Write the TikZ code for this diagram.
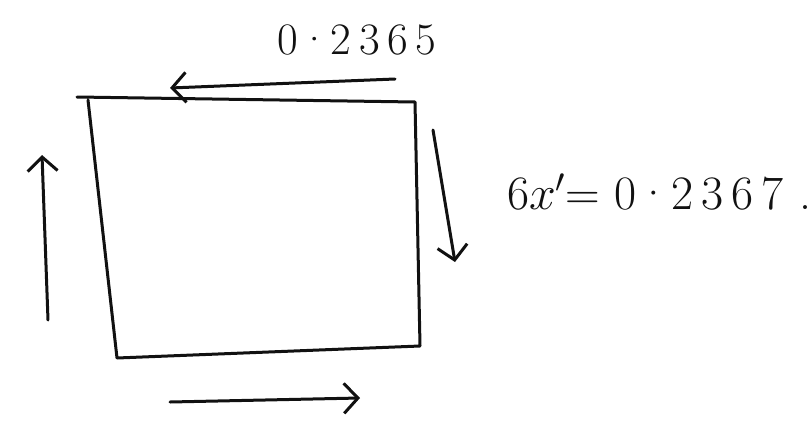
\RequirePackage{fix-cm}
\documentclass[tikz,border=0pt]{standalone}
\usetikzlibrary{arrows.meta}
\definecolor{Paper}{HTML}{FFFFFF}
\definecolor{Pen}{HTML}{111111}
\begin{document}
\begin{tikzpicture}[x=1pt,y=-1pt,every node/.style={text=Pen,inner sep=0pt}]
\useasboundingbox (0,0) rectangle (810,423);
\fill[Paper] (0,0) rectangle (810,423);
% sheet corners
\coordinate (tl) at (77,97);\coordinate (tr) at (415,102);
\coordinate (br) at (420,346);\coordinate (bl) at (117,358);\coordinate (lt) at (88,100);
\draw[Pen,line width=3pt,line join=round,line cap=round] (tl)--(tr)--(br)--(bl)--(lt);
% flow arrows
\coordinate (topS) at (395,79);\coordinate (topE) at (170,88);
\coordinate (rgtS) at (433,130);\coordinate (rgtE) at (455,262);
\coordinate (botS) at (170,402);\coordinate (botE) at (360,398);
\coordinate (lftS) at (48,320);\coordinate (lftE) at (42,155);
\tikzset{flow/.style={Pen,line width=3pt,line cap=round,-{Straight Barb[length=14pt,width=30pt,line width=3pt]}}}
\draw[flow] (topS)--(topE);\draw[flow] (rgtS)--(rgtE);
\draw[flow] (botS)--(botE);\draw[flow] (lftS)--(lftE);
\node[font=\fontsize{45}{45}\selectfont] (dxtop) at (357,40) {0·2\,3\,6\,5};
\node[font=\fontsize{48}{48}\selectfont,anchor=west] (dxside) at (507,192) {6$x'$= 0·2\,3\,6\,7\hspace{16pt}.};
\end{tikzpicture}
\end{document}
